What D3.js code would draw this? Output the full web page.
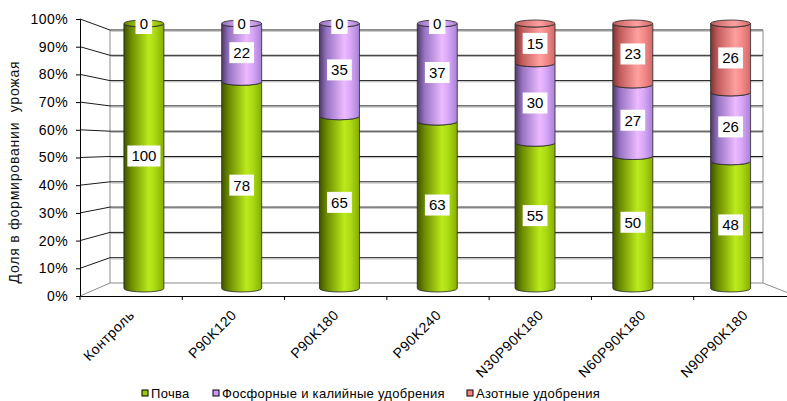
<!DOCTYPE html>
<html>
<head>
<meta charset="utf-8">
<style>
  body { margin: 0; background: #fff; }
  svg { display: block; font-family: Arial, 'Liberation Sans', sans-serif; }
  .y-axis text { font-size: 14px; fill: #000; letter-spacing: 0.4px; }
  .y-axis path, .y-axis line, .x-axis path, .x-axis line { stroke: #000; }
</style>
</head>
<body>
<div id="chart"></div>
<script src="https://cdn.jsdelivr.net/npm/d3@7"></script>
<script>
const categories = ['Контроль', 'P90K120', 'P90K180', 'P90K240', 'N30P90K180', 'N60P90K180', 'N90P90K180'];
const pochva = [100, 78, 65, 63, 55, 50, 48];
const fosfor = [0, 22, 35, 37, 30, 27, 26];
const azot = [0, 0, 0, 0, 15, 23, 26];
const seriesNames = ['Почва', 'Фосфорные и калийные удобрения', 'Азотные удобрения'];
const yTicks = [0, 10, 20, 30, 40, 50, 60, 70, 80, 90, 100];
const yTitle = 'Доля в формировании  урожая';

const keys = ['pochva', 'fosfor', 'azot'];
const data = categories.map((c, i) => ({ cat: c, pochva: pochva[i], fosfor: fosfor[i], azot: azot[i] }));

const svgWidth = 787;
const svgHeight = 401;

const svg = d3
    .select('#chart')
    .append('svg')
    .attr('width', svgWidth)
    .attr('height', svgHeight);

// front plane and back plane of the 3d box
const xF = d3.scaleBand().domain(categories).range([80, 796]);
const xB = d3.scaleBand().domain(categories).range([110, 763]);
const yF = d3.scaleLinear().domain([0, 100]).range([296, 19]);
const yB = d3.scaleLinear().domain([0, 100]).range([283, 30]);
const depth = 0.5;
const lerp = (a, b, t) => a + (b - a) * t;
const cx = c => lerp(xF(c) + xF.bandwidth() / 2, xB(c) + xB.bandwidth() / 2, depth);
const ym = v => lerp(yF(v), yB(v), depth) - 1;

const colors = [
    { base: '#99cc00', stops: ['#3f5200', '#6b8a00', '#bbea1c', '#abd914', '#86ad00'] },
    { base: '#cc99ff', stops: ['#4d3a66', '#9673c2', '#ecbaff', '#d8a6f7', '#a781d6'] },
    { base: '#ff8080', stops: ['#7a3434', '#c25c5c', '#ffa0a0', '#f78a8a', '#cf6a6a'] }
];
const offs = [0, 0.18, 0.62, 0.78, 1];

const defs = svg.append('defs');
colors.forEach((c, i) => {
    const g = defs.append('linearGradient').attr('id', 'g' + i)
        .attr('x1', 0).attr('x2', 1).attr('y1', 0).attr('y2', 0);
    c.stops.forEach((s, j) => g.append('stop').attr('offset', offs[j]).attr('stop-color', s));
    const t = defs.append('linearGradient').attr('id', 't' + i)
        .attr('x1', 0).attr('x2', 1).attr('y1', 0).attr('y2', 0);
    t.append('stop').attr('offset', 0).attr('stop-color', c.stops[1]);
    t.append('stop').attr('offset', 0.6).attr('stop-color', c.stops[2]);
    t.append('stop').attr('offset', 1).attr('stop-color', c.stops[4]);
});

// floor
const floor = svg.append('g').attr('fill', 'none').attr('stroke', '#8c8c8c');
floor.append('path')
    .attr('d', `M${xF.range()[0]},${yF(0)} L${xB.range()[0]},${yB(0)} L${xB.range()[1]},${yB(0)} L${xF.range()[1]},${yF(0)}`);

// back wall edges
svg.append('line').attr('x1', xB.range()[0]).attr('x2', xB.range()[0])
    .attr('y1', yB(0)).attr('y2', yB(100)).attr('stroke', '#8c8c8c');
svg.append('line').attr('x1', xB.range()[1]).attr('x2', xB.range()[1])
    .attr('y1', yB(0)).attr('y2', yB(100)).attr('stroke', '#8c8c8c');

// grid: side wall diagonals + back wall lines
const grid = svg.append('g');
grid.selectAll('.side')
    .data(yTicks.filter(d => d > 0))
    .enter()
    .append('path')
    .attr('fill', 'none')
    .attr('stroke', '#1a1a1a')
    .attr('d', d => `M${xF.range()[0]},${yF(d)} L${xB.range()[0]},${yB(d)} L${xB.range()[1]},${yB(d)}`);
grid.selectAll('.shade')
    .data(yTicks.filter(d => d > 0))
    .enter()
    .append('line')
    .attr('x1', xB.range()[0] + 1).attr('x2', xB.range()[1])
    .attr('y1', d => yB(d) + 1.2).attr('y2', d => yB(d) + 1.2)
    .attr('stroke', '#b8b8b8');

// axes
svg.append('g')
    .attr('class', 'y-axis')
    .attr('transform', `translate(${xF.range()[0]},0)`)
    .call(d3.axisLeft(yF).tickValues(yTicks).tickSize(4).tickPadding(8).tickSizeOuter(0)
        .tickFormat(d => d + '%'))
    .call(g => g.selectAll('text').attr('font-family', 'Arial, sans-serif'));

svg.append('g')
    .attr('class', 'x-axis')
    .attr('transform', `translate(0,${yF(0)})`)
    .call(d3.axisBottom(xF).tickSize(4).tickSizeOuter(0).tickFormat(''))
    .call(g => g.selectAll('.tick').attr('transform', d => `translate(${xF(d)},0)`));

// category labels
svg.selectAll('.cat')
    .data(categories)
    .enter()
    .append('text')
    .attr('class', 'cat')
    .attr('text-anchor', 'end')
    .attr('font-size', 14)
    .attr('letter-spacing', 0.5)
    .attr('transform', d => `translate(${xF(d) + xF.bandwidth() / 2 + 4},316) rotate(-45)`)
    .text(d => d);

// y title
svg.append('text')
    .attr('transform', 'translate(19,172) rotate(-90)')
    .attr('text-anchor', 'middle')
    .attr('font-size', 14)
    .attr('letter-spacing', 0.8)
    .attr('fill', '#111')
    .style('white-space', 'pre')
    .text(yTitle);

// cylinders
const r = 20;
const ry = 3.5;
const stack = d3.stack().keys(keys)(data);

const sidePath = (x, y0, y1) =>
    `M${x - r},${y1} L${x - r},${y0} A${r},${ry} 0 0 0 ${x + r},${y0} L${x + r},${y1} A${r},${ry} 0 0 1 ${x - r},${y1} Z`;

const layers = svg.selectAll('g.layer')
    .data(stack)
    .enter()
    .append('g')
    .attr('class', 'layer');

layers.each(function (layer, li) {
    d3.select(this).selectAll('path')
        .data(layer.filter(d => d[1] - d[0] > 0))
        .enter()
        .append('path')
        .attr('d', d => sidePath(cx(d.data.cat), ym(d[0]), ym(d[1])))
        .attr('fill', `url(#g${li})`)
        .attr('stroke', '#262626')
        .attr('stroke-width', 0.8);
});

// top faces
svg.selectAll('.top')
    .data(data)
    .enter()
    .append('ellipse')
    .attr('cx', d => cx(d.cat))
    .attr('cy', d => ym(d.pochva + d.fosfor + d.azot))
    .attr('rx', r)
    .attr('ry', ry)
    .attr('fill', d => `url(#t${d.azot > 0 ? 2 : d.fosfor > 0 ? 1 : 0})`)
    .attr('stroke', '#262626')
    .attr('stroke-width', 0.8);

// value labels
const labels = [];
stack.forEach(layer => layer.forEach(d => labels.push({ x: cx(d.data.cat), y: ym((d[0] + d[1]) / 2), v: d[1] - d[0] })));

const lab = svg.selectAll('.lab')
    .data(labels)
    .enter()
    .append('g')
    .attr('class', 'lab')
    .attr('transform', d => `translate(${d.x},${d.y})`);

lab.append('text')
    .attr('text-anchor', 'middle')
    .attr('dy', '0.36em')
    .attr('font-size', 15)
    .attr('fill', '#000')
    .text(d => d.v);

lab.each(function () {
    const g = d3.select(this);
    const bb = g.select('text').node().getBBox();
    g.insert('rect', 'text')
        .attr('x', bb.x - 4)
        .attr('y', -10.5)
        .attr('width', bb.width + 8)
        .attr('height', 21)
        .attr('fill', '#fff');
});

// legend
const legendX = [142, 213, 467];
const leg = svg.selectAll('.leg')
    .data(seriesNames)
    .enter()
    .append('g')
    .attr('class', 'leg')
    .attr('transform', (d, i) => `translate(${legendX[i]},390)`);

leg.append('rect')
    .attr('width', 6)
    .attr('height', 6)
    .attr('fill', (d, i) => colors[i].base)
    .attr('stroke', '#000')
    .attr('stroke-width', 1);

leg.append('text')
    .attr('x', 9)
    .attr('y', 8)
    .attr('font-size', 13)
    .attr('letter-spacing', 0.3)
    .text(d => d);
</script>
</body>
</html>
